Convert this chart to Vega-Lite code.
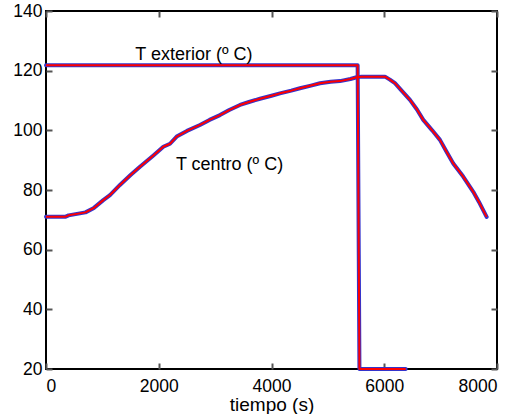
{
  "$schema": "https://vega.github.io/schema/vega-lite/v6.json",
  "autosize": {"type": "none"},
  "width": 451,
  "height": 358,
  "padding": {"left": 46, "top": 11, "right": 24, "bottom": 45},
  "background": "white",
  "config": {
    "view": {"stroke": "black", "strokeWidth": 2},
    "font": "Liberation Sans",
    "axis": {"grid": false, "labelColor": "black", "titleColor": "black", "labelFont": "Liberation Sans", "titleFont": "Liberation Sans", "labelFontSize": 17.5, "titleFontSize": 19, "titleFontWeight": "normal", "format": "d"}
  },
  "datasets": {
    "lines": [
      {"serie": "ext", "t": 0, "T": 121.8},
      {"serie": "ext", "t": 5528, "T": 121.8},
      {"serie": "ext", "t": 5560, "T": 20},
      {"serie": "ext", "t": 6380, "T": 20},
      {"serie": "cen", "t": 0, "T": 71},
      {"serie": "cen", "t": 340, "T": 71},
      {"serie": "cen", "t": 400, "T": 71.5},
      {"serie": "cen", "t": 550, "T": 72},
      {"serie": "cen", "t": 700, "T": 72.5},
      {"serie": "cen", "t": 850, "T": 74},
      {"serie": "cen", "t": 1016, "T": 76.6},
      {"serie": "cen", "t": 1135, "T": 78.3},
      {"serie": "cen", "t": 1312, "T": 81.7},
      {"serie": "cen", "t": 1500, "T": 85},
      {"serie": "cen", "t": 1667, "T": 87.8},
      {"serie": "cen", "t": 1900, "T": 91.5},
      {"serie": "cen", "t": 2081, "T": 94.5},
      {"serie": "cen", "t": 2200, "T": 95.5},
      {"serie": "cen", "t": 2318, "T": 97.9},
      {"serie": "cen", "t": 2500, "T": 99.8},
      {"serie": "cen", "t": 2731, "T": 101.8},
      {"serie": "cen", "t": 2900, "T": 103.5},
      {"serie": "cen", "t": 3086, "T": 105.1},
      {"serie": "cen", "t": 3250, "T": 106.8},
      {"serie": "cen", "t": 3441, "T": 108.5},
      {"serie": "cen", "t": 3600, "T": 109.5},
      {"serie": "cen", "t": 3796, "T": 110.6},
      {"serie": "cen", "t": 4000, "T": 111.6},
      {"serie": "cen", "t": 4150, "T": 112.4},
      {"serie": "cen", "t": 4350, "T": 113.3},
      {"serie": "cen", "t": 4505, "T": 114.1},
      {"serie": "cen", "t": 4700, "T": 115},
      {"serie": "cen", "t": 4860, "T": 115.8},
      {"serie": "cen", "t": 5050, "T": 116.3},
      {"serie": "cen", "t": 5215, "T": 116.5},
      {"serie": "cen", "t": 5400, "T": 117.2},
      {"serie": "cen", "t": 5510, "T": 117.8},
      {"serie": "cen", "t": 5600, "T": 118},
      {"serie": "cen", "t": 6013, "T": 118},
      {"serie": "cen", "t": 6100, "T": 117},
      {"serie": "cen", "t": 6190, "T": 115.8},
      {"serie": "cen", "t": 6300, "T": 113.5},
      {"serie": "cen", "t": 6456, "T": 110.2},
      {"serie": "cen", "t": 6580, "T": 107},
      {"serie": "cen", "t": 6692, "T": 103.5},
      {"serie": "cen", "t": 6850, "T": 100},
      {"serie": "cen", "t": 6988, "T": 96.8},
      {"serie": "cen", "t": 7100, "T": 93},
      {"serie": "cen", "t": 7224, "T": 88.9},
      {"serie": "cen", "t": 7400, "T": 84.5},
      {"serie": "cen", "t": 7579, "T": 79.4},
      {"serie": "cen", "t": 7680, "T": 76},
      {"serie": "cen", "t": 7816, "T": 71}
    ],
    "labels": [
      {"t": 2625, "T": 123.6, "txt": "T exterior (º C)"},
      {"t": 3255, "T": 86.7, "txt": "T centro (º C)"}
    ]
  },
  "resolve": {"axis": {"x": "independent", "y": "independent"}},
  "layer": [
    {
      "data": {"name": "lines"},
      "mark": {"type": "line", "color": "#3434cc", "strokeWidth": 4, "strokeJoin": "round", "strokeCap": "round"},
      "encoding": {
        "x": {"field": "t", "type": "quantitative", "scale": {"domain": [0, 8000], "nice": false},
          "axis": {"orient": "bottom", "values": [0, 2000, 4000, 6000, 8000], "domain": false, "tickSize": -6, "tickColor": "#555555", "tickWidth": 2, "labelPadding": 14, "title": "tiempo (s)", "titlePadding": 1}},
        "y": {"field": "T", "type": "quantitative", "scale": {"domain": [20, 140], "nice": false, "zero": false},
          "axis": {"orient": "left", "values": [20, 40, 60, 80, 100, 120, 140], "domain": false, "tickSize": -6, "tickColor": "#555555", "tickWidth": 2, "labelPadding": 10, "title": null}},
        "detail": {"field": "serie"},
        "order": {"field": "t", "type": "quantitative"}
      }
    },
    {
      "data": {"name": "lines"},
      "mark": {"type": "line", "color": "#ff0000", "strokeWidth": 2, "strokeJoin": "round"},
      "encoding": {
        "x": {"field": "t", "type": "quantitative",
          "axis": {"orient": "top", "values": [0, 2000, 4000, 6000, 8000], "domain": false, "tickSize": -6, "tickColor": "#555555", "tickWidth": 2, "labels": false, "title": null}},
        "y": {"field": "T", "type": "quantitative",
          "axis": {"orient": "right", "values": [20, 40, 60, 80, 100, 120, 140], "domain": false, "tickSize": -6, "tickColor": "#555555", "tickWidth": 2, "labels": false, "title": null}},
        "detail": {"field": "serie"},
        "order": {"field": "t", "type": "quantitative"}
      }
    },
    {
      "data": {"name": "labels"},
      "mark": {"type": "text", "font": "Liberation Sans", "fontSize": 18, "color": "black", "align": "center", "baseline": "alphabetic"},
      "encoding": {
        "x": {"field": "t", "type": "quantitative", "axis": null},
        "y": {"field": "T", "type": "quantitative", "axis": null},
        "text": {"field": "txt"}
      }
    }
  ]
}
